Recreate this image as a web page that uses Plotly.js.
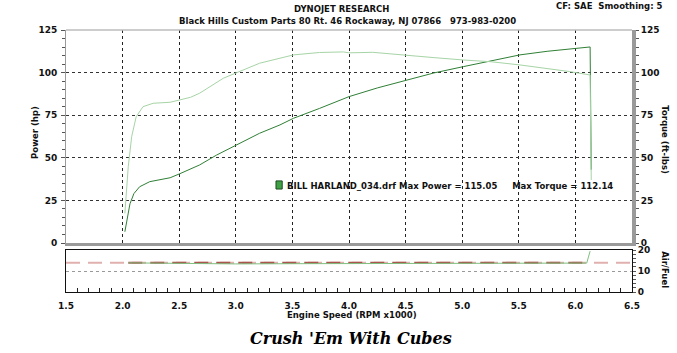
<!DOCTYPE html>
<html>
<head>
<meta charset="utf-8">
<script src="https://cdn.plot.ly/plotly-3.0.1.min.js"></script>
<style>html,body{margin:0;padding:0;background:#fff;}#chart{width:677px;height:353px;}</style>
</head>
<body>
<div id="chart"></div>
<script>
// ---- data ----
const powerRpm = [2.02, 2.04, 2.065, 2.1, 2.15, 2.24, 2.42, 2.5, 2.68, 2.83, 3.0, 3.21, 3.39, 3.51, 3.74, 4.0, 4.25, 4.51, 4.75, 5.01, 5.25, 5.51, 5.75, 6.01, 6.1, 6.13, 6.14];
const powerHp  = [6.6, 15, 23, 29, 33, 36, 38.3, 40.5, 45.8, 51.6, 57.5, 64.4, 69.3, 73.2, 79, 85.9, 91, 95.7, 99.8, 103.5, 107, 110.4, 112.5, 114.3, 114.6, 115.05, 43];

const torqueRpm = [2.02, 2.05, 2.08, 2.12, 2.18, 2.27, 2.42, 2.5, 2.6, 2.68, 2.77, 2.89, 3.01, 3.21, 3.51, 3.74, 3.95, 4.0, 4.21, 4.51, 4.75, 5.01, 5.25, 5.51, 5.75, 5.95, 6.13, 6.14];
const torqueFtLb = [17.4, 44.8, 62.4, 74.1, 80, 82, 82.6, 83.9, 85.5, 87.9, 91.7, 96.7, 100, 105.5, 110.4, 111.8, 112.14, 111.6, 111.9, 110.4, 108.8, 107.4, 106.4, 104.5, 102.5, 100.6, 98.6, 37];

const afrRpm = [2.05, 2.3, 2.4, 2.6, 2.8, 3.0, 3.5, 4.0, 4.5, 4.8, 5.0, 5.5, 6.0, 6.1, 6.13];
const afrVal = [13.9, 13.8, 13.4, 13.6, 13.3, 13.4, 13.5, 13.6, 13.7, 13.6, 13.8, 13.7, 13.8, 13.8, 19.5];

const afrTargetRpm = [1.5, 6.5];
const afrTarget = [14, 14];
const afrTargetRunRpm = [2.05, 6.1];

const xTickVals = [1.5, 2.0, 2.5, 3.0, 3.5, 4.0, 4.5, 5.0, 5.5, 6.0, 6.5];
const yTickVals = [0, 25, 50, 75, 100, 125];
const afrTickVals = [0, 10, 20];

// ---- chart ----
const FONT = "DejaVu Sans, Verdana, sans-serif";
const tickFont = {family: FONT, size: 9, color: '#111', weight: 'bold'};
const labFont = {family: FONT, size: 8.5, color: '#111', weight: 'bold'};

const traces = [
  {x: torqueRpm, y: torqueFtLb, xaxis: 'x', yaxis: 'y2', mode: 'lines', line: {color: '#a6d4a6', width: 1}, name: 'Torque'},
  {x: powerRpm, y: powerHp, xaxis: 'x', yaxis: 'y', mode: 'lines', line: {color: '#2f7f35', width: 1}, name: 'Power'},
  {x: afrTargetRpm, y: afrTarget, xaxis: 'x2', yaxis: 'y3', mode: 'lines', line: {color: '#e0b0ae', width: 2, dash: '14px,8px'}, name: 'AFR target'},
  {x: afrTargetRunRpm, y: afrTarget, xaxis: 'x2', yaxis: 'y3', mode: 'lines', line: {color: '#a8564e', width: 2, dash: '14px,8px'}, name: 'AFR target run'},
  {x: afrRpm, y: afrVal, xaxis: 'x2', yaxis: 'y3', mode: 'lines', line: {color: '#7fbf7f', width: 1}, name: 'Air/Fuel'}
];

const mainBottom = 0.187, lowTop = 0.160;

function ann(text, x, y, font, extra) {
  return Object.assign({text: text, xref: 'paper', yref: 'paper', x: x, y: y,
    xanchor: 'center', yanchor: 'middle', showarrow: false, font: font}, extra || {});
}

const layout = {
  width: 677, height: 353,
  margin: {l: 66, r: 45, t: 30, b: 61},
  paper_bgcolor: '#fff', plot_bgcolor: '#fff',
  showlegend: false,
  font: {family: FONT, size: 9, color: '#111'},
  xaxis: {
    domain: [0, 1], anchor: 'y', range: [1.5, 6.5],
    tickvals: xTickVals, showticklabels: false, ticks: '',
    showgrid: true, gridcolor: '#222', griddash: 'dot', gridwidth: 1,
    showline: true, linecolor: '#9a9a9a', linewidth: 3, zeroline: false
  },
  xaxis2: {
    domain: [0, 1], anchor: 'y3', range: [1.5, 6.5], matches: 'x',
    tickvals: xTickVals, tickformat: '.1f', ticks: 'inside', ticklen: 4, tickcolor: '#222',
    minor: {dtick: 0.1, ticks: 'inside', ticklen: 4, tickcolor: '#222', showgrid: false},
    tickfont: tickFont, ticklabelstandoff: 5, showgrid: false,
    showline: true, linecolor: '#111', linewidth: 1, mirror: true, zeroline: false
  },
  yaxis: {
    domain: [mainBottom, 1], anchor: 'x', range: [0, 125],
    tickvals: yTickVals, ticks: 'outside', ticklen: 4, tickcolor: '#555',
    minor: {dtick: 5, ticks: 'outside', ticklen: 3, tickcolor: '#555', showgrid: false},
    tickfont: tickFont, ticklabelstandoff: 2,
    showgrid: true, gridcolor: '#333', griddash: 'dot', gridwidth: 1,
    showline: true, linecolor: '#9a9a9a', linewidth: 1, zeroline: false
  },
  yaxis2: {
    overlaying: 'y', side: 'right', anchor: 'x', range: [0, 125],
    tickvals: yTickVals, ticks: 'outside', ticklen: 3, tickcolor: '#555',
    minor: {dtick: 5, ticks: 'outside', ticklen: 3, tickcolor: '#555', showgrid: false},
    tickfont: tickFont, showgrid: false,
    showline: true, linecolor: '#9a9a9a', linewidth: 4, zeroline: false
  },
  yaxis3: {
    domain: [0, lowTop], anchor: 'x2', side: 'right', range: [0, 20],
    tickvals: afrTickVals, ticks: 'outside', ticklen: 3, tickcolor: '#555',
    minor: {dtick: 2, ticks: 'outside', ticklen: 3, tickcolor: '#555', showgrid: false},
    tickfont: tickFont,
    showgrid: true, gridcolor: '#999', griddash: 'dot', gridwidth: 1,
    showline: true, linecolor: '#111', linewidth: 1, mirror: true, zeroline: false
  },
  shapes: [
    {type: 'line', xref: 'paper', yref: 'paper', x0: 0, x1: 1, y0: 1, y1: 1, line: {color: '#bdbdbd', width: 1.5}},
    {type: 'rect', xref: 'paper', yref: 'paper', x0: 0.371, x1: 0.382, y0: 0.393, y1: 0.424,
     fillcolor: '#3fa044', line: {color: '#1d4d20', width: 1}}
  ],
  annotations: [
    ann('DYNOJET RESEARCH', 0.4876, 1.080, labFont),
    ann('Black Hills Custom Parts 80 Rt. 46 Rockaway, NJ 07866&nbsp;&nbsp;&nbsp;973-983-0200', 0.497, 1.034, labFont),
    ann('CF: SAE&nbsp;&nbsp;Smoothing: 5', 0.961, 1.092, labFont),
    ann('BILL HARLAND_034.drf Max Power = 115.05&nbsp;&nbsp;&nbsp;&nbsp;&nbsp;Max Torque = 112.14', 0.387, 0.405, labFont, {xanchor: 'left'}),
    ann('Power (hp)', -0.0548, 0.611, labFont, {textangle: -90}),
    ann('Torque (ft-lbs)', 1.058, 0.58, labFont, {textangle: 90}),
    ann('Air/Fuel', 1.058, 0.084, labFont, {textangle: 90}),
    ann('Engine Speed (RPM x1000)', 0.505, -0.086, labFont),
    ann("Crush 'Em With Cubes", 0.504, -0.176, {family: 'DejaVu Serif, serif', size: 16, color: '#000', weight: 'bold', style: 'italic'})
  ]
};

Plotly.newPlot('chart', traces, layout, {staticPlot: true, displayModeBar: false});
</script>
</body>
</html>
